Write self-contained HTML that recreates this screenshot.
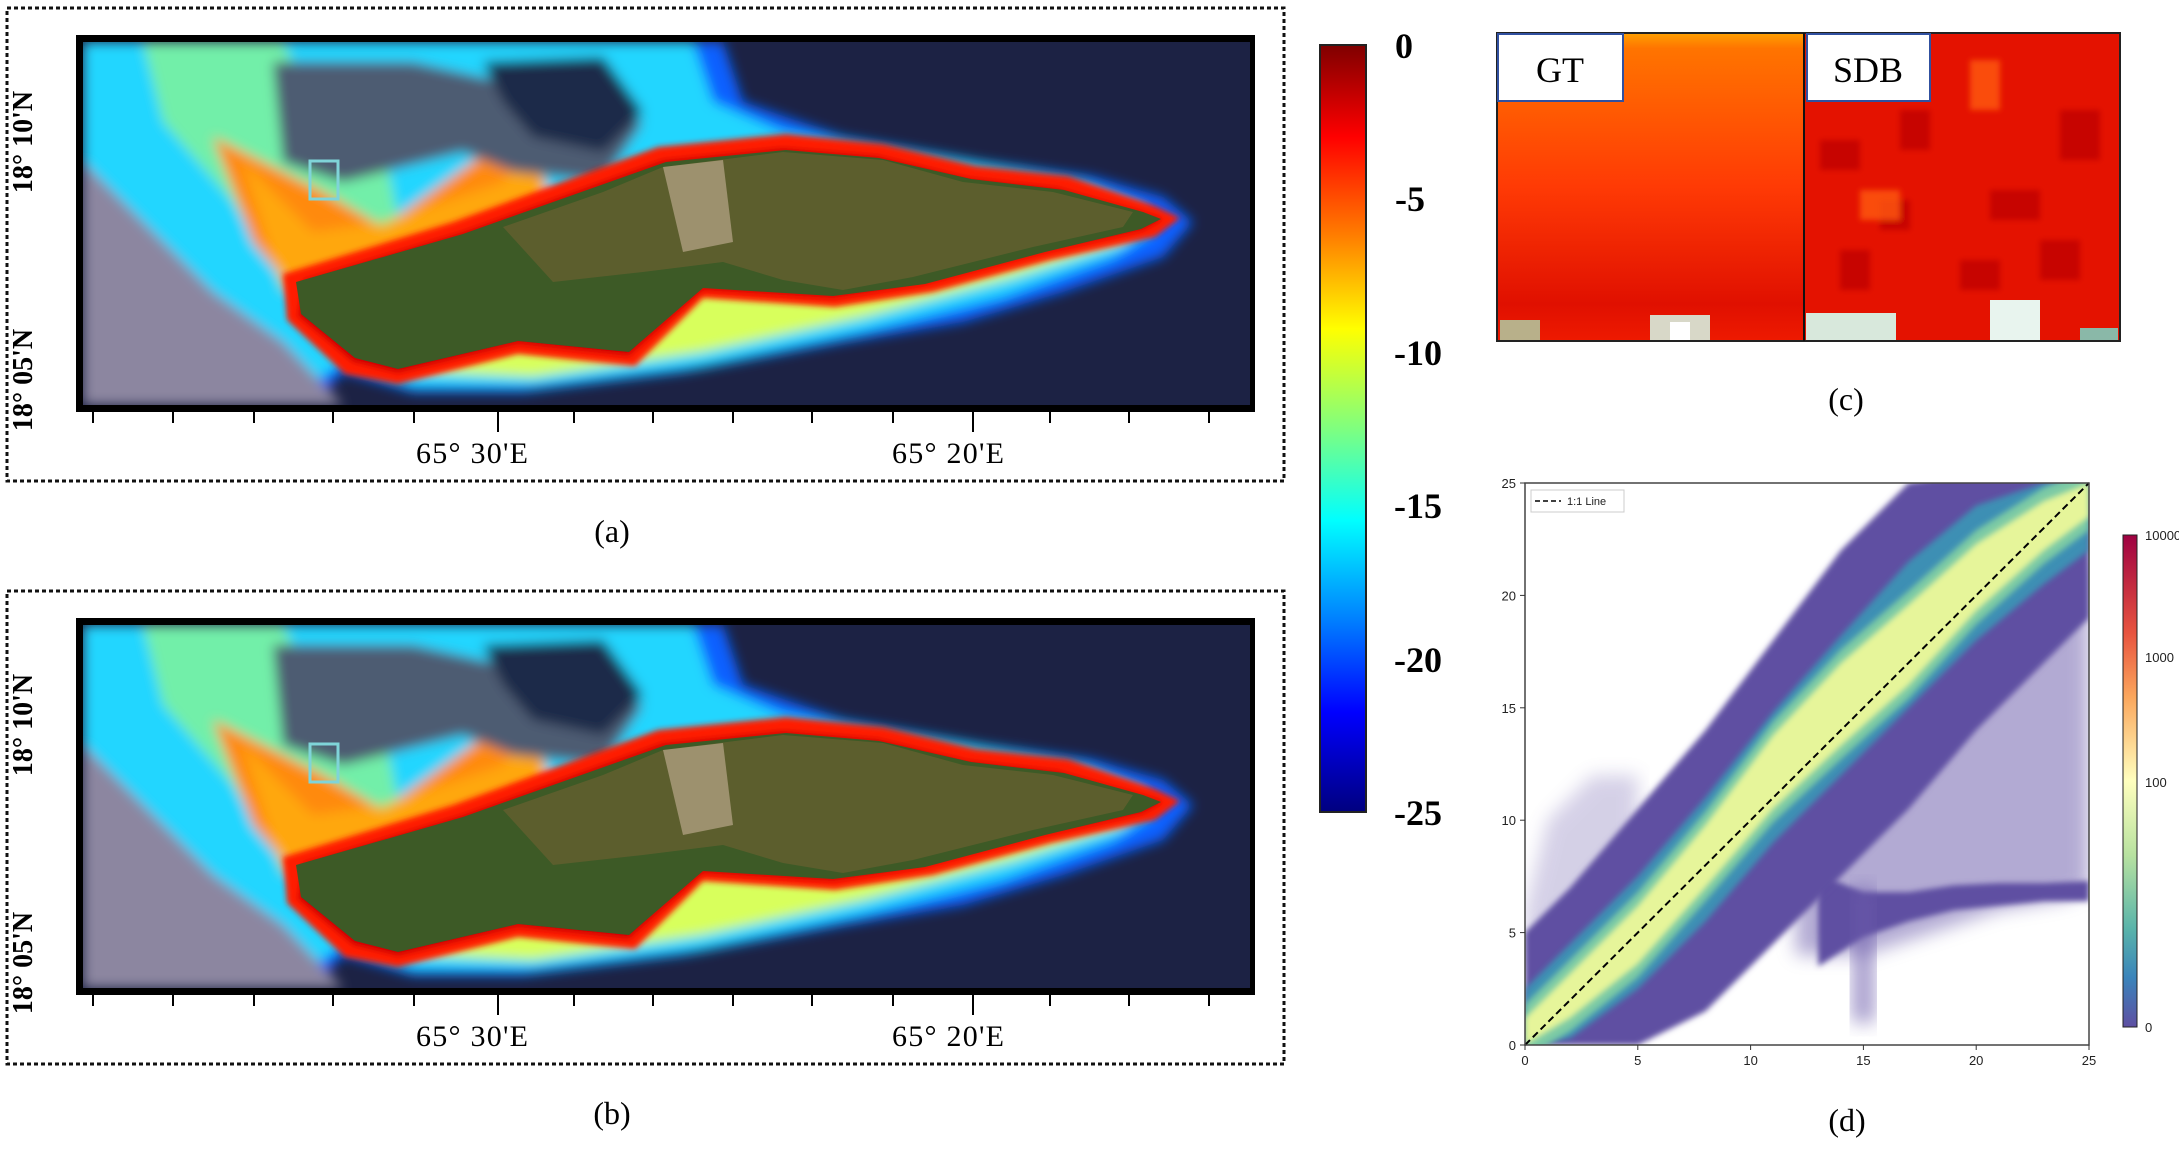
<!DOCTYPE html>
<html><head><meta charset="utf-8"><style>
html,body{margin:0;padding:0;background:#fff;}
body{width:2179px;height:1149px;overflow:hidden;position:relative;font-family:"Liberation Serif",serif;}
svg{position:absolute;left:0;top:0;}
</style></head><body>
<svg width="2179" height="1149" viewBox="0 0 2179 1149">
<defs>
<filter id="bl" x="-10%" y="-10%" width="120%" height="120%"><feGaussianBlur stdDeviation="6"/></filter>
<filter id="bl2" x="-10%" y="-10%" width="120%" height="120%"><feGaussianBlur stdDeviation="3"/></filter>
<filter id="bl3" x="-10%" y="-10%" width="120%" height="120%"><feGaussianBlur stdDeviation="9"/></filter>
<linearGradient id="jet" x1="0" y1="0" x2="0" y2="1">
<stop offset="0" stop-color="#7f0000"/><stop offset="0.12" stop-color="#ff0000"/><stop offset="0.25" stop-color="#ff7f00"/><stop offset="0.37" stop-color="#ffff00"/><stop offset="0.5" stop-color="#7fff7f"/><stop offset="0.62" stop-color="#00ffff"/><stop offset="0.75" stop-color="#007fff"/><stop offset="0.87" stop-color="#0000ff"/><stop offset="1" stop-color="#00007f"/>
</linearGradient>
<linearGradient id="spec" x1="0" y1="0" x2="0" y2="1">
<stop offset="0" stop-color="#9e0142"/><stop offset="0.2" stop-color="#e8543f"/><stop offset="0.33" stop-color="#fba75d"/><stop offset="0.5" stop-color="#ffffbe"/><stop offset="0.65" stop-color="#b8e2a0"/><stop offset="0.8" stop-color="#59b4aa"/><stop offset="0.9" stop-color="#3a84bb"/><stop offset="1" stop-color="#5e4fa2"/>
</linearGradient>
<linearGradient id="gtg" x1="0" y1="0" x2="0" y2="1">
<stop offset="0" stop-color="#ffa000"/><stop offset="0.05" stop-color="#ff7400"/><stop offset="0.5" stop-color="#ff3a05"/><stop offset="0.88" stop-color="#e01000"/><stop offset="1" stop-color="#ee1a00"/>
</linearGradient>
<clipPath id="mapclip"><rect x="0" y="0" width="1167" height="363"/></clipPath>
<clipPath id="scclip"><rect x="1525" y="483" width="564" height="562"/></clipPath>
<g id="map">
<rect x="0" y="0" width="1167" height="363" fill="#1c2244"/>
<g clip-path="url(#mapclip)">
<g filter="url(#bl)">
<path d="M0,0 L640,0 L660,60 L760,95 L900,120 L1010,135 L1080,155 L1110,180 L1080,215 L980,250 L880,280 L760,300 L600,330 L440,350 L330,350 L260,330 L230,363 L0,363 Z" fill="#1060ff"/>
<path d="M0,0 L610,0 L630,60 L700,90 L880,118 L1000,140 L1060,165 L1070,190 L1030,215 L920,255 L780,290 L620,325 L450,345 L330,345 L260,320 L200,363 L0,363 Z" fill="#22d6ff"/>
<path d="M0,120 L60,180 L130,250 L200,300 L260,363 L0,363 Z" fill="#8c86a0"/>
<path d="M230,240 L330,330 L450,335 L620,310 L780,275 L930,235 L1040,200 L1060,170 L1000,150 L700,200 L400,260 Z" fill="#d8ff5c"/>
<path d="M60,0 L200,0 L230,60 L300,100 L320,200 L260,250 L200,240 L150,160 L80,80 Z" fill="#a8ff70" opacity="0.6"/>
<path d="M130,95 L240,150 L300,185 L390,120 L440,90 L470,160 L330,215 L220,260 L170,200 Z" fill="#ff8a10"/>
<path d="M160,120 L230,190 L300,180 L420,140 L450,100 L470,170 L290,225 L200,250 Z" fill="#ffc000" opacity="0.55"/>
<path d="M190,20 L330,20 L420,40 L500,60 L560,80 L520,140 L430,130 L380,110 L260,140 L200,120 Z" fill="#4e5c72"/>
<path d="M400,20 L520,15 L560,70 L520,110 L450,95 L420,60 Z" fill="#1c2a48"/>
</g>
<g filter="url(#bl2)">
<path d="M200,232 L370,180 L575,105 L703,92 L800,102 L893,124 L985,134 L1072,164 L1097,176 L1072,195 L968,218 L850,250 L752,265 L620,256 L552,324 L435,312 L315,342 L262,332 L204,278 Z" fill="#ff1a00"/>
<path d="M220,238 L380,190 L580,118 L700,106 L795,114 L885,136 L975,146 L1058,170 L1080,177 L1060,188 L960,210 L840,242 L750,256 L620,248 L546,314 L435,302 L315,331 L270,320 L215,274 Z" fill="#d00000"/>
</g>
<path d="M213,240 L380,192 L583,120 L703,108 L796,116 L888,137 L981,148 L1060,170 L1078,177 L1058,187 L962,210 L842,242 L750,254 L620,246 L546,310 L435,299 L315,327 L272,316 L218,272 Z" fill="#3d5a26"/>
<path d="M420,185 L520,150 L580,125 L700,110 L800,118 L880,140 L970,150 L1050,170 L1040,185 L950,205 L830,235 L760,248 L700,238 L640,220 L560,230 L470,240 Z" fill="#6a6030" opacity="0.7"/>
<path d="M580,125 L640,118 L650,200 L600,210 Z" fill="#c8b49a" opacity="0.6"/>
<rect x="227" y="119" width="28" height="38" fill="none" stroke="#7fd4d8" stroke-width="3"/>
</g>
</g>
</defs>

<g>
<rect x="7" y="8" width="1277" height="473" fill="none" stroke="#111" stroke-width="3" stroke-dasharray="4,3"/>
<rect x="76" y="35" width="1179" height="377" fill="#000"/>
<use href="#map" x="83" y="42"/>
<g stroke="#000" stroke-width="2">
<line x1="93" y1="412" x2="93" y2="423"/><line x1="173" y1="412" x2="173" y2="423"/><line x1="254" y1="412" x2="254" y2="423"/><line x1="333" y1="412" x2="333" y2="423"/><line x1="414" y1="412" x2="414" y2="423"/><line x1="498" y1="412" x2="498" y2="432"/><line x1="574" y1="412" x2="574" y2="423"/><line x1="653" y1="412" x2="653" y2="423"/><line x1="733" y1="412" x2="733" y2="423"/><line x1="812" y1="412" x2="812" y2="423"/><line x1="893" y1="412" x2="893" y2="423"/><line x1="973" y1="412" x2="973" y2="432"/><line x1="1050" y1="412" x2="1050" y2="423"/><line x1="1129" y1="412" x2="1129" y2="423"/><line x1="1209" y1="412" x2="1209" y2="423"/>
</g>
<text x="472" y="463" font-size="30" text-anchor="middle" textLength="112">65° 30'E</text>
<text x="948" y="463" font-size="30" text-anchor="middle" textLength="112">65° 20'E</text>
<text transform="translate(32,142) rotate(-90)" font-size="28" font-weight="bold" text-anchor="middle">18° 10'N</text>
<text transform="translate(32,380) rotate(-90)" font-size="28" font-weight="bold" text-anchor="middle">18° 05'N</text>
<text x="612" y="542" font-size="32" text-anchor="middle">(a)</text>
</g>

<g>
<rect x="7" y="591" width="1277" height="473" fill="none" stroke="#111" stroke-width="3" stroke-dasharray="4,3"/>
<rect x="76" y="618" width="1179" height="377" fill="#000"/>
<use href="#map" x="83" y="625"/>
<g stroke="#000" stroke-width="2">
<line x1="93" y1="995" x2="93" y2="1006"/><line x1="173" y1="995" x2="173" y2="1006"/><line x1="254" y1="995" x2="254" y2="1006"/><line x1="333" y1="995" x2="333" y2="1006"/><line x1="414" y1="995" x2="414" y2="1006"/><line x1="498" y1="995" x2="498" y2="1015"/><line x1="574" y1="995" x2="574" y2="1006"/><line x1="653" y1="995" x2="653" y2="1006"/><line x1="733" y1="995" x2="733" y2="1006"/><line x1="812" y1="995" x2="812" y2="1006"/><line x1="893" y1="995" x2="893" y2="1006"/><line x1="973" y1="995" x2="973" y2="1015"/><line x1="1050" y1="995" x2="1050" y2="1006"/><line x1="1129" y1="995" x2="1129" y2="1006"/><line x1="1209" y1="995" x2="1209" y2="1006"/>
</g>
<text x="472" y="1046" font-size="30" text-anchor="middle" textLength="112">65° 30'E</text>
<text x="948" y="1046" font-size="30" text-anchor="middle" textLength="112">65° 20'E</text>
<text transform="translate(32,725) rotate(-90)" font-size="28" font-weight="bold" text-anchor="middle">18° 10'N</text>
<text transform="translate(32,963) rotate(-90)" font-size="28" font-weight="bold" text-anchor="middle">18° 05'N</text>
<text x="612" y="1124" font-size="32" text-anchor="middle">(b)</text>
</g>

<g>
<rect x="1320" y="45" width="46" height="767" fill="url(#jet)" stroke="#222" stroke-width="2"/>
<g font-size="36" font-weight="bold" text-anchor="middle">
<text x="1404" y="58">0</text><text x="1410" y="211">-5</text><text x="1418" y="365">-10</text><text x="1418" y="518">-15</text><text x="1418" y="672">-20</text><text x="1418" y="825">-25</text>
</g>
</g>

<g>
<rect x="1497" y="33" width="307" height="308" fill="url(#gtg)"/>
<rect x="1804" y="33" width="316" height="308" fill="#e41200"/>
<g filter="url(#bl2)">
<g fill="#c00000" opacity="0.8"><rect x="1820" y="140" width="40" height="30"/><rect x="1900" y="110" width="30" height="40"/><rect x="1990" y="190" width="50" height="30"/><rect x="1840" y="250" width="30" height="40"/><rect x="1960" y="260" width="40" height="30"/><rect x="2060" y="110" width="40" height="50"/><rect x="1880" y="200" width="30" height="30"/><rect x="2040" y="240" width="40" height="40"/></g>
<g fill="#ff5a10" opacity="0.8"><rect x="1970" y="60" width="30" height="50"/><rect x="1860" y="190" width="40" height="30"/></g>
</g>
<g><rect x="1500" y="320" width="40" height="20" fill="#b8b08a"/><rect x="1650" y="315" width="60" height="25" fill="#d8d8c8"/><rect x="1670" y="322" width="20" height="18" fill="#fff"/></g>
<g><rect x="1806" y="313" width="90" height="27" fill="#d8e8dc"/><rect x="1990" y="300" width="50" height="40" fill="#e8f4ee"/><rect x="2080" y="328" width="38" height="12" fill="#8ab8a8"/></g>
<rect x="1497" y="33" width="623" height="308" fill="none" stroke="#222" stroke-width="2"/>
<line x1="1804" y1="33" x2="1804" y2="341" stroke="#111" stroke-width="2"/>
<rect x="1498" y="34" width="125" height="67" fill="#fff" stroke="#3050a0" stroke-width="2"/>
<text x="1560" y="82" font-size="36" text-anchor="middle">GT</text>
<rect x="1807" y="34" width="123" height="67" fill="#fff" stroke="#3050a0" stroke-width="2"/>
<text x="1868" y="82" font-size="36" text-anchor="middle">SDB</text>
<text x="1846" y="410" font-size="32" text-anchor="middle">(c)</text>
</g>

<g id="scatter">
<rect x="1525" y="483" width="564" height="562" fill="#fff"/>
<g id="bands" clip-path="url(#scclip)"></g>
<g id="axes"></g>
<g>
<rect x="2123" y="535" width="14" height="492" fill="url(#spec)" stroke="#222" stroke-width="1"/>
<g font-family="Liberation Sans, sans-serif" font-size="13" fill="#222">
<text x="2145" y="540">10000</text><text x="2145" y="662">1000</text><text x="2145" y="787">100</text><text x="2145" y="1032">0</text>
</g>
</g>
<text x="1847" y="1131" font-size="32" text-anchor="middle">(d)</text>
</g>
</svg>
<script>
const ticks=[0,5,10,15,20,25];
const bandX=[0,2,5,8,11,14,17,20,23,25];
const outerUpper=[5,7,10.5,14,18,22,25,25.5,25.5,25.5];
const outerLower=[0,0,0,1.5,4.5,7.5,10.5,14,17,19];
const tealUpper=[2.5,4.5,7.5,11,14.8,18.2,21.5,24,25,25];
const tealLower=[0,0.3,2.5,5.5,9,12,15,18,20.5,22];
const yellowUpper=[1.2,3.2,6.2,9.8,13.8,17,19.6,22.3,24.2,25];
const yellowLower=[0,1.2,3.6,7,10.5,13.3,16,19.3,22,23.5];
const sparseX=[12,15,18,21,24,25];
const sparseTop=[8,12,15.5,19,21,22];
const sparseBot=[4,4,5,6,6.5,7];
const leftX=[0,1,3,5];
const leftTop=[6,10,12,12];
const leftBot=[3,5,7,9];
const tailX=[13,15,17,19,21,23,25];
const tailTop=[7.6,6.8,6.8,7.1,7.2,7.2,7.3];
const tailBot=[3.5,4.8,5.5,6,6.2,6.4,6.4];
const dropX=[14.5,15.5];
const dropY=[1,7];
const X=v=>1525+v*22.56, Y=v=>1045-v*22.48;
const NS='http://www.w3.org/2000/svg';
function band(xs,up,lo,fill,name,op,filt){
  let d='M'+xs.map((x,i)=>X(x)+','+Y(up[i])).join(' L')+' L'+xs.slice().reverse().map((x,i)=>X(x)+','+Y(lo[lo.length-1-i])).join(' L')+'Z';
  const p=document.createElementNS(NS,'path');p.setAttribute('d',d);p.setAttribute('fill',fill);
  if(op)p.setAttribute('opacity',op);p.setAttribute('filter',filt||'url(#bl2)');
  
  
  document.getElementById('bands').appendChild(p);
}
band(sparseX,sparseTop,sparseBot,'#7466b0','sparse-scatter','0.55','url(#bl3)');
band(leftX,leftTop,leftBot,'#7466b0','left-sparse-scatter','0.3','url(#bl3)');
band(tailX,tailTop,tailBot,'#5e4fa2','tail-band');
band(dropX,[dropY[1],dropY[1]],[dropY[0],dropY[0]],'#6a5aaa','drop-band','0.6','url(#bl3)');
band(bandX,outerUpper,outerLower,'#5e4fa2','outer-band');
band(bandX,tealUpper,tealLower,'#3e8fb4','teal-band');
band(bandX,yellowUpper.map(v=>v+0.6),yellowLower.map(v=>v-0.6),'#7ccaa5','green-band');
band(bandX,yellowUpper,yellowLower,'#e6f59a','yellow-band');
const ax=document.getElementById('axes');
function el(tag,attrs,txt){const e=document.createElementNS(NS,tag);for(const k in attrs)e.setAttribute(k,attrs[k]);if(txt!==undefined)e.textContent=txt;ax.appendChild(e);return e;}
const one=el('line',{x1:X(0),y1:Y(0),x2:X(25),y2:Y(25),stroke:'#000','stroke-width':2,'stroke-dasharray':'7,4'});


const fr=el('rect',{x:1525,y:483,width:564,height:562,fill:'none',stroke:'#444','stroke-width':1.5});


ticks.forEach(t=>{
  el('line',{x1:X(t),y1:1045,x2:X(t),y2:1050,stroke:'#333'});
  el('line',{x1:1520,y1:Y(t),x2:1525,y2:Y(t),stroke:'#333'});
  const tx=el('text',{x:X(t),y:1065,'font-family':'Liberation Sans, sans-serif','font-size':13,'text-anchor':'middle',fill:'#222'},String(t));
  
  
  const ty=el('text',{x:1516,y:Y(t)+5,'font-family':'Liberation Sans, sans-serif','font-size':13,'text-anchor':'end',fill:'#222'},String(t));
  
  
});
const lg=el('rect',{x:1531,y:490,width:93,height:22,fill:'#fff',stroke:'#ccc'});


el('line',{x1:1535,y1:501,x2:1561,y2:501,stroke:'#000','stroke-width':1.5,'stroke-dasharray':'5,3'});
const lt=el('text',{x:1567,y:505,'font-family':'Liberation Sans, sans-serif','font-size':11,fill:'#222'},'1:1 Line');


</script>
</body></html>
